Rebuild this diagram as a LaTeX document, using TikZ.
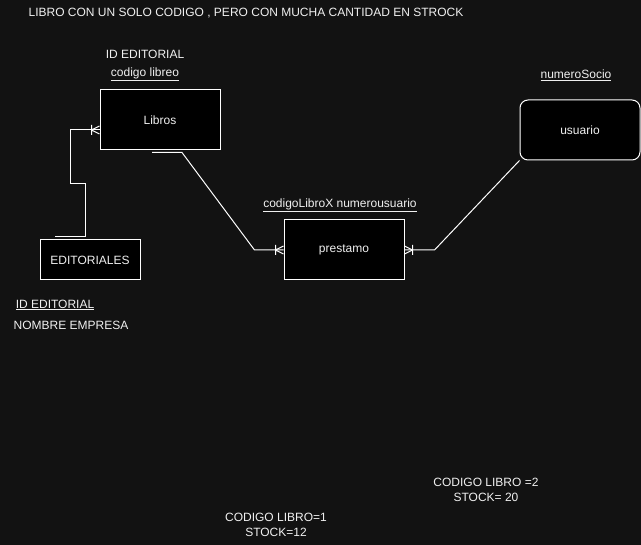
\documentclass[tikz,border=0pt]{standalone}
\usepackage{fontspec}
\setmainfont{Liberation Sans}
\usetikzlibrary{calc}
\definecolor{bg}{HTML}{121212}
\definecolor{fg}{HTML}{F0F0F0}
\newcommand\crowLeft[1]{%
  \draw[conn] ($(#1)+(-8,0)$) -- ($(#1)+(0,-4)$)
              ($(#1)+(-8,0)$) -- ($(#1)+(0,4)$)
              ($(#1)+(-8,-5)$) -- ($(#1)+(-8,5)$);}
\newcommand\crowRight[1]{%
  \draw[conn] ($(#1)+(8,0)$) -- ($(#1)+(0,-4)$)
              ($(#1)+(8,0)$) -- ($(#1)+(0,4)$)
              ($(#1)+(8,-5)$) -- ($(#1)+(8,5)$);}
\begin{document}
\begin{tikzpicture}[x=1pt,y=-1pt,
  every node/.style={font=\fontsize{12}{14.5}\selectfont, text=fg, inner sep=0pt},
  entity/.style={draw=white, fill=black, line width=1pt, minimum width=120pt, minimum height=60pt},
  conn/.style={draw=white, line width=1pt},
  lbl/.style={align=center}]
\fill[bg] (0,0) rectangle (641,545);
\useasboundingbox (0,0) rectangle (641,545);

\node[lbl] (title) at (246,13) {LIBRO CON UN SOLO CODIGO , PERO CON MUCHA CANTIDAD EN STROCK};

\node[entity] (libros) at (160,120) {Libros};
\node[entity, minimum width=100pt, minimum height=40pt] (edit) at (90,260) {EDITORIALES};
\node[entity] (prest) at (344,250) {prestamo};
\node[entity, rounded corners=8pt] (usuario) at (580,130) {usuario};

\node[lbl] (idedit1) at (145,54) {ID EDITORIAL};
\node[lbl] (codlib) at (145,74) {\underline{codigo libreo}};
\node[lbl] (idedit2) at (55,305) {\underline{ID EDITORIAL}};
\node[lbl] (nomemp) at (71,325) {NOMBRE EMPRESA};
\node[lbl] (codnum) at (340,205) {\underline{codigoLibroX numerousuario}};
\node[lbl] (numsoc) at (576,75) {\underline{numeroSocio}};
\node[lbl] (cod2) at (486,490) {CODIGO LIBRO =2\\STOCK= 20};
\node[lbl] (cod1) at (276,525) {CODIGO LIBRO=1\\STOCK=12};

\coordinate (eStart) at ([xshift=-35pt,yshift=3pt]edit.north);
\coordinate (lIn) at ([yshift=-10pt]libros.west);
\coordinate (lOut) at ([xshift=-8pt,yshift=-2pt]libros.south);

\draw[conn] (eStart) -- ++(30,0) -- ++(0,-53) -- ++(-15,0) |- (lIn);
\crowLeft{lIn}

\draw[conn] (lOut) -- ++(30,0) -- ([xshift=-29pt]prest.west) -- (prest.west);
\crowLeft{prest.west}

\draw[conn] (prest.east) -- ++(30,0) -- (usuario.south west);
\crowRight{prest.east}
\end{tikzpicture}
\end{document}
